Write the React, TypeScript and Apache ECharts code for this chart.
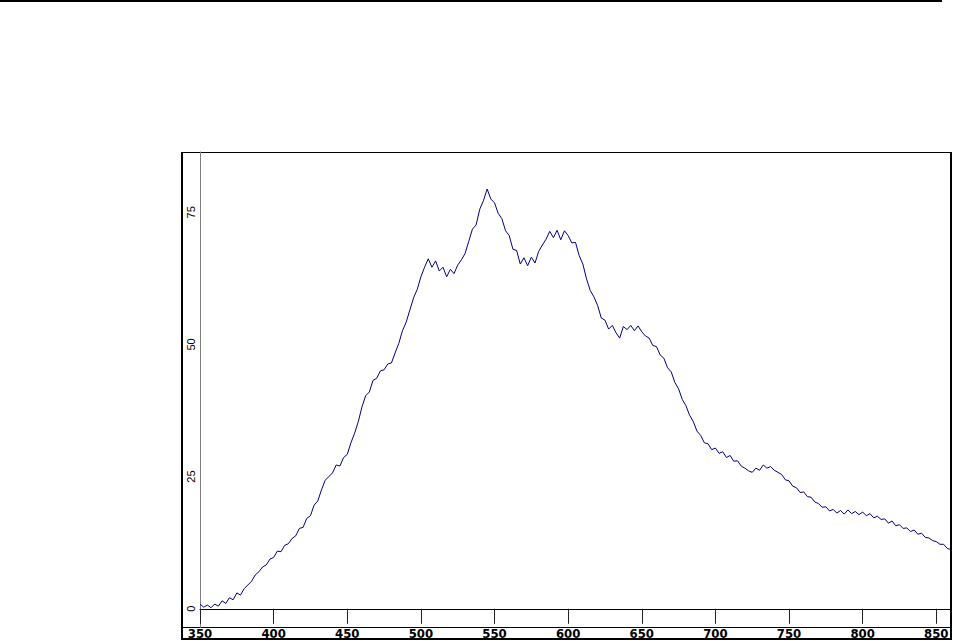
import React, { useEffect, useRef } from "react";
import * as echarts from "echarts";

// Spectrum sampled every 2.5 nm from 350 nm
const wavelengthStart = 350;
const wavelengthStep = 2.5;
const intensity = [
  0.9, 0.3, 0.7, 0.2, 0.9, 0.5, 1.5, 1.0, 2.1, 1.7,
  3.0, 2.6, 3.8, 4.5, 5.2, 6.4, 7.0, 7.9, 8.3, 9.4,
  9.7, 10.9, 10.8, 12.0, 12.3, 13.3, 13.8, 15.2, 15.4, 17.1,
  17.6, 19.6, 20.4, 22.5, 24.3, 25.0, 25.7, 27.2, 27.0, 28.6,
  29.2, 31.4, 33.2, 35.4, 38.2, 40.3, 41.0, 43.2, 43.6, 45.0,
  45.2, 46.3, 46.5, 48.4, 50.2, 52.6, 54.2, 56.5, 58.8, 60.4,
  62.8, 64.6, 66.2, 64.6, 65.8, 63.9, 64.6, 62.8, 64.2, 63.4,
  65.0, 66.0, 67.2, 69.5, 71.8, 72.6, 75.6, 77.2, 79.4, 77.5,
  76.8, 74.8, 73.8, 71.5, 70.6, 68.0, 67.8, 65.2, 66.4, 64.9,
  66.5, 65.4, 67.6, 68.8, 69.9, 71.4, 70.2, 71.6, 69.8, 71.5,
  70.6, 69.2, 69.3, 66.8, 65.2, 62.4, 60.2, 59.0, 57.4, 55.0,
  54.6, 52.9, 53.6, 52.2, 51.2, 53.4, 52.8, 53.6, 52.6, 53.5,
  52.4, 51.6, 51.2, 49.8, 49.6, 48.0, 47.4, 45.6, 44.8, 42.8,
  41.6, 39.6, 38.4, 36.6, 35.4, 33.6, 32.8, 31.4, 31.2, 30.1,
  30.4, 29.4, 29.7, 28.6, 29.0, 27.9, 28.0, 27.0, 26.6, 26.1,
  25.8, 26.6, 26.2, 27.2, 26.6, 26.9, 26.2, 25.8, 25.4, 24.4,
  24.2, 23.2, 22.9, 22.0, 22.1, 21.2, 21.1, 20.2, 19.9, 19.2,
  19.3, 18.5, 18.8, 18.1, 18.6, 17.9, 18.7, 18.0, 18.4, 17.8,
  18.3, 17.6, 18.0, 17.2, 17.5, 16.9, 17.0, 16.2, 16.6, 15.7,
  15.9, 15.2, 15.3, 14.6, 14.9, 14.1, 14.3, 13.5, 13.4, 12.9,
  12.7, 12.2, 12.2, 11.4, 11.2,
];
const xTicks = [350, 400, 450, 500, 550, 600, 650, 700, 750, 800, 850];
const yTicks = [0, 25, 50, 75];

export default function App() {
  const ref = useRef<HTMLDivElement>(null);
  useEffect(() => {
    document.body.style.margin = "0";
    const chart = echarts.init(ref.current!, null, { renderer: "svg" });
    const data = intensity.map((v, i) => [wavelengthStart + wavelengthStep * i, v]);
    chart.setOption({
      animation: false,
      backgroundColor: "#ffffff",
      grid: { left: 200, right: 2, top: 152, bottom: 28, containLabel: false },
      xAxis: {
        type: "value",
        min: 350,
        max: 860,
        axisLine: { show: true, lineStyle: { color: "#000000", width: 1 } },
        axisTick: {
          show: true,
          inside: false,
          length: 15,
          customValues: xTicks,
          lineStyle: { color: "#222222", width: 1 },
        },
        axisLabel: {
          customValues: xTicks,
          margin: 14,
          fontSize: 13,
          fontWeight: "bold",
          fontFamily: "'Liberation Sans Narrow', 'DejaVu Sans Condensed', sans-serif",
          color: "#000000",
        },
        splitLine: { show: false },
      },
      yAxis: {
        type: "value",
        min: -0.8,
        max: 86.4,
        axisLine: { show: true, lineStyle: { color: "#808080", width: 1 } },
        axisTick: { show: false },
        axisLabel: {
          customValues: yTicks,
          rotate: 90,
          margin: 4,
          fontSize: 11,
          fontFamily: "'Liberation Sans', Arial, sans-serif",
          color: "#000000",
        },
        splitLine: { show: false },
      },
      series: [
        {
          type: "line",
          data,
          showSymbol: false,
          smooth: false,
          lineStyle: { color: "#000080", width: 1 },
          itemStyle: { color: "#000080" },
        },
      ],
      graphic: [
        { type: "line", shape: { x1: 0, y1: 1, x2: 942, y2: 1 }, style: { stroke: "#000", lineWidth: 2 } },
        { type: "line", shape: { x1: 181, y1: 152.5, x2: 952, y2: 152.5 }, style: { stroke: "#000", lineWidth: 1 } },
        { type: "line", shape: { x1: 182, y1: 152, x2: 182, y2: 640 }, style: { stroke: "#000", lineWidth: 2 } },
        { type: "line", shape: { x1: 951, y1: 152, x2: 951, y2: 640 }, style: { stroke: "#000", lineWidth: 2 } },
        { type: "line", shape: { x1: 181, y1: 639, x2: 952, y2: 639 }, style: { stroke: "#000", lineWidth: 2 } },
        { type: "line", shape: { x1: 182, y1: 627.5, x2: 951, y2: 627.5 }, style: { stroke: "#000", lineWidth: 1 } },
        { type: "line", shape: { x1: 200.5, y1: 613, x2: 200.5, y2: 628 }, style: { stroke: "#808080", lineWidth: 1 } },
      ],
    });
    return () => chart.dispose();
  }, []);
  return <div ref={ref} style={{ width: 953, height: 641 }} />;
}
